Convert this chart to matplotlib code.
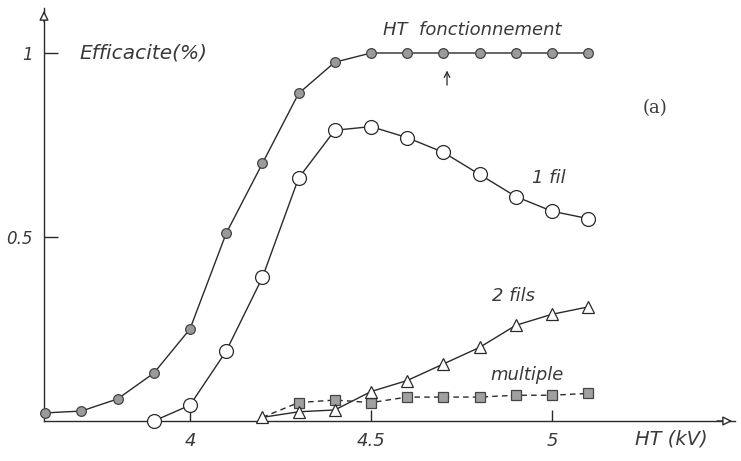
import numpy as np
from matplotlib import pyplot as plt

# data
ht_x = [3.6, 3.7, 3.8, 3.9, 4.0, 4.1, 4.2, 4.3, 4.4, 4.5, 4.6, 4.7, 4.8, 4.9, 5.0, 5.1]
ht_y = [0.022, 0.027, 0.06, 0.13, 0.25, 0.51, 0.70, 0.89, 0.975, 1.0, 1.0, 1.0, 1.0, 1.0, 1.0, 1.0]

fil1_x = [3.9, 4.0, 4.1, 4.2, 4.3, 4.4, 4.5, 4.6, 4.7, 4.8, 4.9, 5.0, 5.1]
fil1_y = [0.0, 0.043, 0.19, 0.39, 0.66, 0.79, 0.80, 0.77, 0.73, 0.67, 0.61, 0.57, 0.55]

fils2_x = [4.2, 4.3, 4.4, 4.5, 4.6, 4.7, 4.8, 4.9, 5.0, 5.1]
fils2_y = [0.01, 0.025, 0.03, 0.08, 0.11, 0.155, 0.20, 0.26, 0.29, 0.31]

mult_x = [4.3, 4.4, 4.5, 4.6, 4.7, 4.8, 4.9, 5.0, 5.1]
mult_y = [0.05, 0.057, 0.05, 0.065, 0.065, 0.065, 0.07, 0.07, 0.075]

xticks = [4, 4.5, 5]
xtick_labels = ['4', '4.5', '5']
yticks = [0.5, 1]
ytick_labels = ['0.5', '1']

ink = '#2a2a2a'
txt = '#3a3a3a'

fig = plt.figure(figsize=(7.41, 4.61), dpi=100)
ax = fig.add_axes([44 / 741, 40 / 461, (735 - 44) / 741, (421 - 8) / 461])
ax.set_xlim(4 + (44 - 190) / 362, 4 + (735 - 190) / 362)
ax.set_ylim(0, 413 / 368)

for s in ['top', 'right']:
    ax.spines[s].set_visible(False)
for s in ['left', 'bottom']:
    ax.spines[s].set_color(ink)
    ax.spines[s].set_linewidth(1.0)

# axis arrows
ax.annotate('', xy=(1.0, 0), xytext=(0.97, 0), xycoords='axes fraction',
            arrowprops=dict(arrowstyle='-|>', color=ink, fc='white', lw=1, mutation_scale=14))
ax.annotate('', xy=(0, 1.0), xytext=(0, 0.96), xycoords='axes fraction',
            arrowprops=dict(arrowstyle='-|>', color=ink, fc='white', lw=1, mutation_scale=14))

ax.plot(ht_x, ht_y, '-', color=ink, lw=1.0, marker='o', ms=7, mfc='#9a9a9a',
        mec='#444444', mew=0.9, clip_on=False, zorder=3)
ax.plot(fil1_x, fil1_y, '-', color=ink, lw=1.0, marker='o', ms=10, mfc='white',
        mec=ink, mew=0.9, clip_on=False, zorder=3)
ax.plot([fils2_x[0]] + mult_x, [fils2_y[0]] + mult_y, '--', color=ink, lw=1.0,
        dashes=(4, 3), zorder=2)
ax.plot(mult_x, mult_y, ' ', marker='s', ms=7, mfc='#a0a0a0', mec='#444444',
        mew=0.9, clip_on=False, zorder=3)
ax.plot(fils2_x, fils2_y, '-', color=ink, lw=1.0, marker='^', ms=9, mfc='white',
        mec=ink, mew=0.9, clip_on=False, zorder=4)

ax.set_xticks(xticks)
ax.set_xticklabels(xtick_labels, fontstyle='italic', fontsize=13, color=txt)
ax.set_yticks(yticks)
ax.set_yticklabels(ytick_labels, fontstyle='italic', fontsize=12, color=txt)
ax.tick_params(axis='x', direction='in', length=8, width=1, color=ink, pad=8)
ax.tick_params(axis='y', direction='in', length=10, width=1, color=ink, pad=8)

ax.text(3.696, 1.0, 'Efficacite(%)', fontstyle='italic', fontsize=14.5,
        color=txt, va='center', ha='left')
ax.text(4.533, 1.062, 'HT  fonctionnement', fontstyle='italic', fontsize=13,
        color=txt, va='center', ha='left')
ax.annotate('', xy=(4.71, 0.96), xytext=(4.71, 0.905),
            arrowprops=dict(arrowstyle='->', color=ink, lw=0.9))
ax.text(5.285, 0.85, '(a)', family='DejaVu Serif', fontsize=13, color=txt,
        va='center', ha='center')
ax.text(4.99, 0.66, '1 fil', fontstyle='italic', fontsize=13, color=txt,
        va='center', ha='center')
ax.text(4.895, 0.34, '2 fils', fontstyle='italic', fontsize=13, color=txt,
        va='center', ha='center')
ax.text(4.93, 0.125, 'multiple', fontstyle='italic', fontsize=13, color=txt,
        va='center', ha='center')
ax.text(5.33, -0.05, 'HT (kV)', fontstyle='italic', fontsize=14, color=txt,
        va='center', ha='center', clip_on=False)

plt.savefig('out.png', dpi=100)
